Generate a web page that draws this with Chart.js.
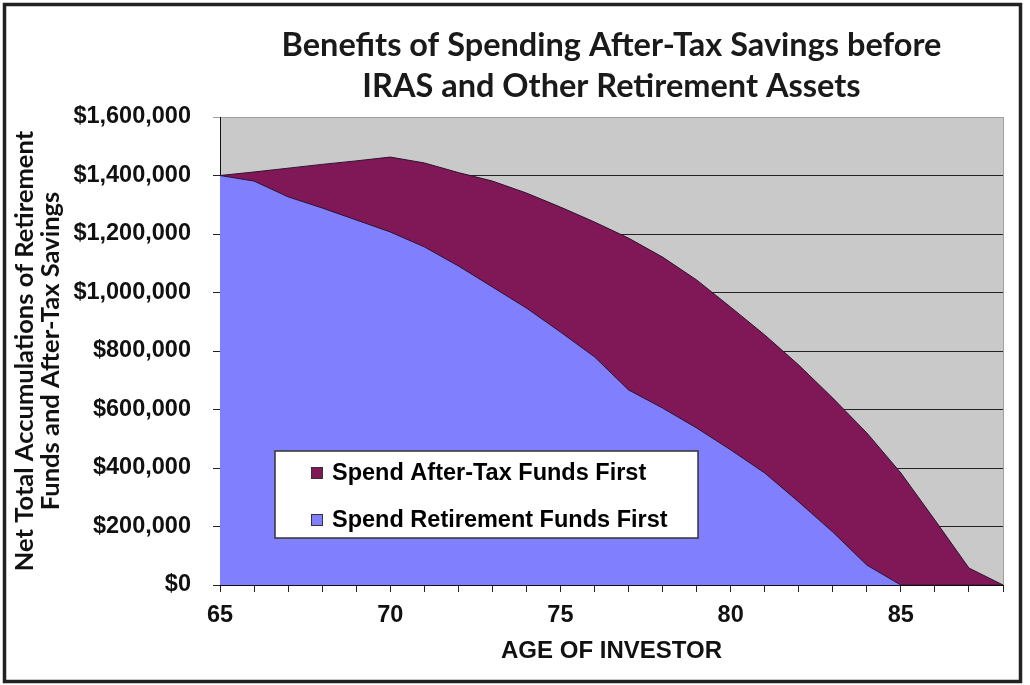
<!DOCTYPE html>
<html>
<head>
<meta charset="utf-8">
<script src="https://cdn.jsdelivr.net/npm/chart.js@4.4.1/dist/chart.umd.min.js"></script>
<style>
  html, body { margin: 0; padding: 0; background: #fff; }
</style>
</head>
<body>
<canvas id="chart" width="1030" height="685"></canvas>
<script>
const ages = [65, 66, 67, 68, 69, 70, 71, 72, 73, 74, 75, 76, 77, 78, 79, 80, 81, 82, 83, 84, 85, 86, 87, 88];
const afterTaxFirst = [1400000, 1412000, 1425000, 1438000, 1450000, 1463000, 1443000, 1410000, 1381000, 1340000,
  1292000, 1241000, 1186000, 1121000, 1043000, 950000, 855000, 752000, 639000, 520000, 383000, 222000, 58000, 0];
const retirementFirst = [1400000, 1381000, 1327000, 1289000, 1248000, 1207000, 1156000, 1091000, 1019000, 947000,
  865000, 780000, 667000, 605000, 537000, 462000, 383000, 284000, 181000, 68000, 0, 0, 0, 0];
const seriesNames = ['Spend After-Tax Funds First', 'Spend Retirement Funds First'];
const titleLines = ['Benefits of Spending After-Tax Savings before', 'IRAS and Other Retirement Assets'];
const yTitle = ['Net Total Accumulations of Retirement', 'Funds and After-Tax Savings'];
const xTitle = 'AGE OF INVESTOR';

const PURPLE = '#801858';
const BLUE = '#8080ff';
const EDGE = '#2e1230';

// background, title, in-plot legend and the outer frame
const decor = {
  id: 'decor',
  beforeDraw(chart) {
    const { ctx, chartArea: a } = chart;
    ctx.save();
    ctx.fillStyle = '#fff';
    ctx.fillRect(0, 0, chart.width, chart.height);
    ctx.fillStyle = '#c9c9c9';
    ctx.fillRect(a.left, a.top, a.right - a.left, a.bottom - a.top);
    ctx.restore();
  },
  afterDraw(chart) {
    const { ctx, chartArea: a } = chart;
    ctx.save();
    // right edge of plot
    ctx.strokeStyle = '#a0a0a0';
    ctx.lineWidth = 1;
    ctx.beginPath();
    ctx.moveTo(a.right + 0.5, a.top);
    ctx.lineTo(a.right + 0.5, a.bottom);
    ctx.stroke();

    // title
    ctx.fillStyle = '#1a1a1a';
    ctx.font = 'bold 32.5px Lato';
    ctx.textAlign = 'center';
    ctx.textBaseline = 'middle';
    const cx = (a.left + a.right) / 2;
    ctx.fillText(titleLines[0], cx, 46);
    ctx.fillText(titleLines[1], cx, 87);

    // legend box
    const lx = a.left + 55, ly = a.top + 334, lw = 423, lh = 87;
    ctx.fillStyle = '#fff';
    ctx.fillRect(lx, ly, lw, lh);
    ctx.strokeStyle = '#333';
    ctx.lineWidth = 1.5;
    ctx.strokeRect(lx, ly, lw, lh);
    const colors = [PURPLE, BLUE];
    ctx.font = 'bold 23.5px "Liberation Sans", Arial';
    ctx.textAlign = 'left';
    for (let i = 0; i < seriesNames.length; i++) {
      const y = ly + 22 + i * 47;
      ctx.fillStyle = colors[i];
      ctx.fillRect(lx + 36, y - 6, 12, 12);
      ctx.strokeStyle = '#333';
      ctx.lineWidth = 1;
      ctx.strokeRect(lx + 36.5, y - 5.5, 11, 11);
      ctx.fillStyle = '#000';
      ctx.fillText(seriesNames[i], lx + 57, y + 1);
    }

    // outer frame
    ctx.strokeStyle = '#222';
    ctx.lineWidth = 3.5;
    ctx.strokeRect(4.5, 4.5, 1016, 677);
    ctx.restore();
  }
};

new Chart(document.getElementById('chart'), {
  type: 'line',
  data: {
    labels: ages,
    datasets: [
      {
        label: seriesNames[0],
        data: afterTaxFirst,
        fill: 'origin',
        backgroundColor: PURPLE,
        borderColor: EDGE,
        borderWidth: 1,
        pointRadius: 0,
        tension: 0,
        order: 2
      },
      {
        label: seriesNames[1],
        data: retirementFirst,
        fill: 'origin',
        backgroundColor: BLUE,
        borderColor: EDGE,
        borderWidth: 1,
        pointRadius: 0,
        tension: 0,
        order: 1
      }
    ]
  },
  options: {
    responsive: false,
    animation: false,
    devicePixelRatio: 1,
    layout: { padding: { top: 117, right: 27, left: 0, bottom: 0 } },
    plugins: {
      legend: { display: false },
      title: { display: false },
      tooltip: { enabled: false }
    },
    scales: {
      x: {
        type: 'category',
        offset: false,
        afterFit(scale) { scale.height = 100; },
        grid: { drawOnChartArea: false, drawTicks: true, tickLength: 7, color: '#222' },
        border: { display: true, color: '#111', width: 1 },
        ticks: {
          autoSkip: false,
          maxRotation: 0,
          padding: 9,
          color: '#111',
          font: { family: '"Liberation Sans", Arial', size: 23.5, weight: 'bold' },
          callback(value, index) {
            const age = ages[index];
            return (age - ages[0]) % 5 === 0 ? String(age) : '';
          }
        },
        title: {
          display: true,
          text: xTitle,
          color: '#111',
          font: { family: '"Liberation Sans", Arial', size: 24, weight: 'bold', lineHeight: 1.1 },
          padding: { top: 0, bottom: 20 }
        }
      },
      y: {
        min: 0,
        max: 1600000,
        afterFit(scale) { scale.width = 220; },
        grid: {
          drawTicks: true,
          tickLength: 7,
          color(c) { return c.tick && c.tick.value === 1600000 ? '#a0a0a0' : '#222'; },
          lineWidth: 1
        },
        border: { display: true, color: '#111', width: 1 },
        ticks: {
          stepSize: 200000,
          padding: 22,
          color: '#111',
          font: { family: '"Liberation Sans", Arial', size: 23.5, weight: 'bold' },
          callback(v) { return '$' + v.toLocaleString('en-US'); }
        },
        title: {
          display: true,
          text: yTitle,
          color: '#111',
          font: { family: 'Lato', size: 25.5, weight: 'bold', lineHeight: 1.02 },
          padding: { top: 12, bottom: 0 }
        }
      }
    }
  },
  plugins: [decor]
});
</script>
</body>
</html>
